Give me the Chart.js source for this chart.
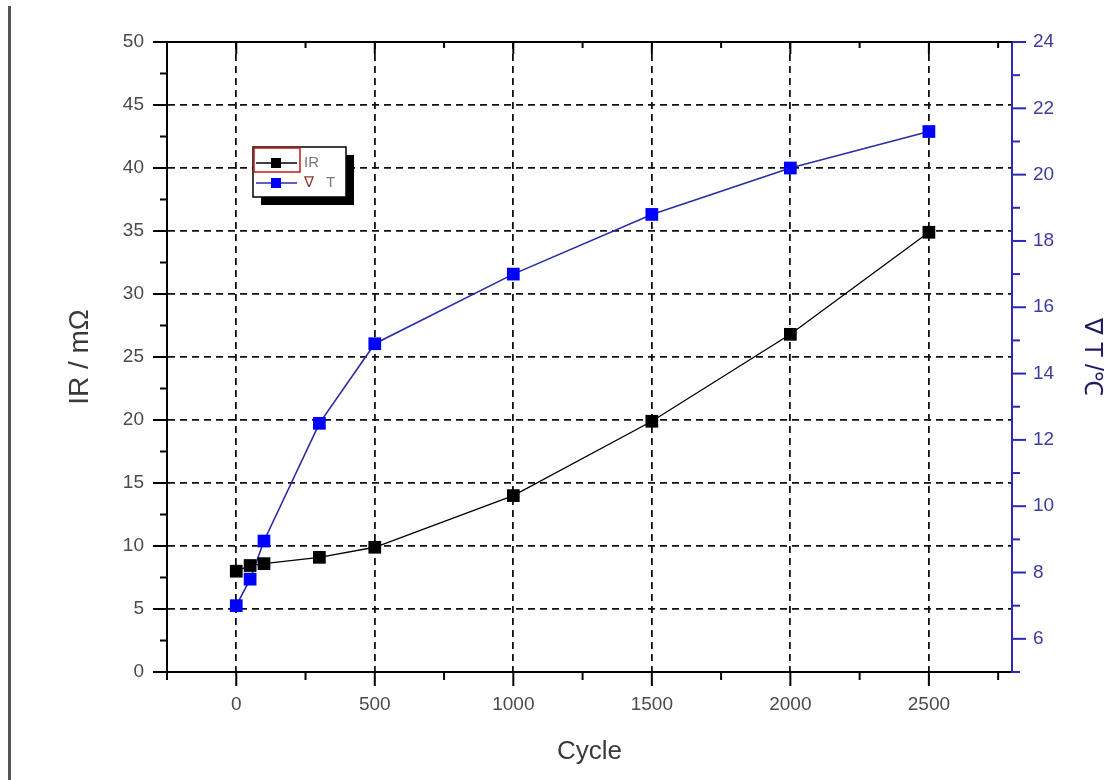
<!DOCTYPE html>
<html>
<head>
<meta charset="utf-8">
<script src="https://cdn.jsdelivr.net/npm/chart.js@4"></script>
<style>
  html, body { margin: 0; padding: 0; background: #fff; }
  #wrap { position: relative; width: 1112px; height: 780px; }
  #edge { position: absolute; left: 8px; top: 6px; width: 3px; bottom: 0; background: #555; }
</style>
</head>
<body>
<div id="wrap">
  <canvas id="c" width="1112" height="780"></canvas>
  <div id="edge"></div>
</div>
<script>
// Data
const cycles   = [0, 50, 100, 300, 500, 1000, 1500, 2000, 2500];
const irValues = [8.0, 8.45, 8.6, 9.1, 9.9, 14.0, 19.9, 26.8, 34.9];
const dtValues = [7.0, 7.8, 8.95, 12.5, 14.9, 17.0, 18.8, 20.2, 21.3];

// Tick labels
const xTicks  = [0, 500, 1000, 1500, 2000, 2500];
const irTicks = [0, 5, 10, 15, 20, 25, 30, 35, 40, 45, 50];
const dtTicks = [6, 8, 10, 12, 14, 16, 18, 20, 22, 24];

const FONT = '"Liberation Sans", Arial, sans-serif';
const BLUE_AXIS = '#2a2ab4';

function toPoints(xs, ys) {
  return xs.map((x, i) => ({ x: x, y: ys[i] }));
}

// minor ticks halfway between majors, plus one before/after, clipped to range
function minorTicks(major, min, max) {
  const step = major[1] - major[0];
  const out = [];
  for (let v = major[0] - step / 2; v <= max + 1e-9; v += step) {
    if (v >= min - 1e-9) out.push(v);
  }
  return out;
}

// ─── axis tick marks + top frame line ─────────────────────────────────────────
const frameTicks = {
  id: 'frameTicks',
  afterDraw(chart) {
    const { ctx, chartArea: a, scales } = chart;
    const x = scales.x, yl = scales.y, yr = scales.y2;
    ctx.save();
    ctx.lineWidth = 2;

    // top frame
    ctx.strokeStyle = '#000';
    ctx.beginPath();
    ctx.moveTo(a.left - 1, a.top);
    ctx.lineTo(a.right, a.top);
    ctx.stroke();

    const tick = (x1, y1, x2, y2) => {
      ctx.beginPath(); ctx.moveTo(x1, y1); ctx.lineTo(x2, y2); ctx.stroke();
    };

    // left axis
    irTicks.forEach(v => { const p = yl.getPixelForValue(v); tick(a.left - 14, p, a.left, p); });
    minorTicks(irTicks, yl.min, yl.max).forEach(v => { const p = yl.getPixelForValue(v); tick(a.left - 7, p, a.left, p); });

    // bottom + top axis
    xTicks.forEach(v => {
      const p = x.getPixelForValue(v);
      tick(p, a.bottom, p, a.bottom + 14);
      tick(p, a.top, p, a.top + 12);
    });
    minorTicks(xTicks, x.min, x.max).forEach(v => {
      const p = x.getPixelForValue(v);
      tick(p, a.bottom, p, a.bottom + 8);
      tick(p, a.top, p, a.top + 6);
    });

    // right axis (blue)
    ctx.strokeStyle = BLUE_AXIS;
    dtTicks.forEach(v => { const p = yr.getPixelForValue(v); tick(a.right, p, a.right + 14, p); });
    minorTicks(dtTicks, yr.min, yr.max).forEach(v => { const p = yr.getPixelForValue(v); tick(a.right, p, a.right + 8, p); });

    ctx.restore();
  }
};

// ─── legend box with drop shadow ─────────────────────────────────────────────
const legendBox = {
  id: 'legendBox',
  afterDatasetsDraw(chart) {
    const ctx = chart.ctx;
    const bx = 253, by = 147, bw = 93, bh = 50;
    ctx.save();
    ctx.fillStyle = '#000';
    ctx.fillRect(bx + 8, by + 8, bw, bh);
    ctx.fillStyle = '#fff';
    ctx.fillRect(bx, by, bw, bh);
    ctx.strokeStyle = '#000';
    ctx.lineWidth = 1.5;
    ctx.strokeRect(bx, by, bw, bh);

    ctx.font = '15px ' + FONT;
    ctx.textBaseline = 'middle';
    chart.data.datasets.forEach((ds, i) => {
      const ly = by + 16 + i * 20;
      ctx.strokeStyle = ds.borderColor;
      ctx.lineWidth = 1.5;
      ctx.beginPath(); ctx.moveTo(bx + 3, ly); ctx.lineTo(bx + 44, ly); ctx.stroke();
      ctx.fillStyle = ds.pointBackgroundColor;
      ctx.fillRect(bx + 18, ly - 5, 10, 10);
      let tx = bx + 51;
      if (ds.label.startsWith('∇')) {
        ctx.fillStyle = '#8a3b2c';
        ctx.fillText('∇', tx, ly);
        tx += 22;
        ctx.fillStyle = '#7a7a7a';
        ctx.fillText(ds.label.slice(1).trim(), tx, ly);
      } else {
        ctx.fillStyle = '#7a7a7a';
        ctx.fillText(ds.label, tx, ly);
      }
    });
    // selection frame around first entry
    ctx.strokeStyle = '#c01818';
    ctx.lineWidth = 1.5;
    ctx.strokeRect(bx + 1, by + 1, 46, 24);
    ctx.restore();
  }
};

new Chart(document.getElementById('c'), {
  type: 'line',
  data: {
    datasets: [
      {
        label: 'IR',
        data: toPoints(cycles, irValues),
        yAxisID: 'y',
        borderColor: '#000',
        borderWidth: 1.3,
        pointStyle: 'rect',
        pointRadius: 9,
        pointBackgroundColor: '#000',
        pointBorderColor: '#000',
        pointBorderWidth: 0,
        tension: 0
      },
      {
        label: '∇ T',
        data: toPoints(cycles, dtValues),
        yAxisID: 'y2',
        borderColor: '#2b2ba6',
        borderWidth: 1.6,
        pointStyle: 'rect',
        pointRadius: 9,
        pointBackgroundColor: '#0000ff',
        pointBorderColor: '#1a1ad0',
        pointBorderWidth: 0,
        tension: 0
      }
    ]
  },
  options: {
    responsive: false,
    animation: false,
    layout: { padding: { top: 42, left: 0, right: 0, bottom: 0 } },
    plugins: { legend: { display: false }, tooltip: { enabled: false } },
    scales: {
      x: {
        type: 'linear',
        min: -250,
        max: 2800,
        afterBuildTicks: s => { s.ticks = xTicks.map(v => ({ value: v })); },
        afterFit: s => { s.height = 108; },
        grid: { color: '#111', lineWidth: 1.8, drawTicks: false },
        border: { color: '#000', width: 2, dash: [7, 5] },
        ticks: {
          color: '#4a4a4a',
          padding: 21,
          font: { family: FONT, size: 19 },
          callback: v => String(v)
        },
        title: {
          display: true,
          text: 'Cycle',
          color: '#3a3a3a',
          font: { family: FONT, size: 26 },
          padding: { top: 0, bottom: 13 }
        }
      },
      y: {
        position: 'left',
        min: 0,
        max: 50,
        afterBuildTicks: s => { s.ticks = irTicks.map(v => ({ value: v })); },
        afterFit: s => { s.width = 167; },
        grid: { color: '#111', lineWidth: 1.8, drawTicks: false },
        border: { color: '#000', width: 2, dash: [7, 5] },
        ticks: {
          color: '#4a4a4a',
          padding: 23,
          font: { family: FONT, size: 19 },
          callback: v => String(v)
        },
        title: {
          display: true,
          text: 'IR / mΩ',
          color: '#3a3a3a',
          font: { family: FONT, size: 28 },
          padding: { top: 63, bottom: 0 }
        }
      },
      y2: {
        position: 'right',
        min: 5,
        max: 24,
        afterBuildTicks: s => { s.ticks = dtTicks.map(v => ({ value: v })); },
        afterFit: s => { s.width = 100; },
        grid: { drawOnChartArea: false, drawTicks: false },
        border: { color: BLUE_AXIS, width: 2 },
        ticks: {
          color: '#3d3d9e',
          padding: 21,
          font: { family: FONT, size: 19 },
          callback: v => String(v)
        },
        title: {
          display: true,
          text: '∇ T /℃',
          color: '#1c1c66',
          font: { family: FONT, size: 25 },
          padding: { top: 5, bottom: 0 }
        }
      }
    }
  },
  plugins: [frameTicks, legendBox]
});
</script>
</body>
</html>
